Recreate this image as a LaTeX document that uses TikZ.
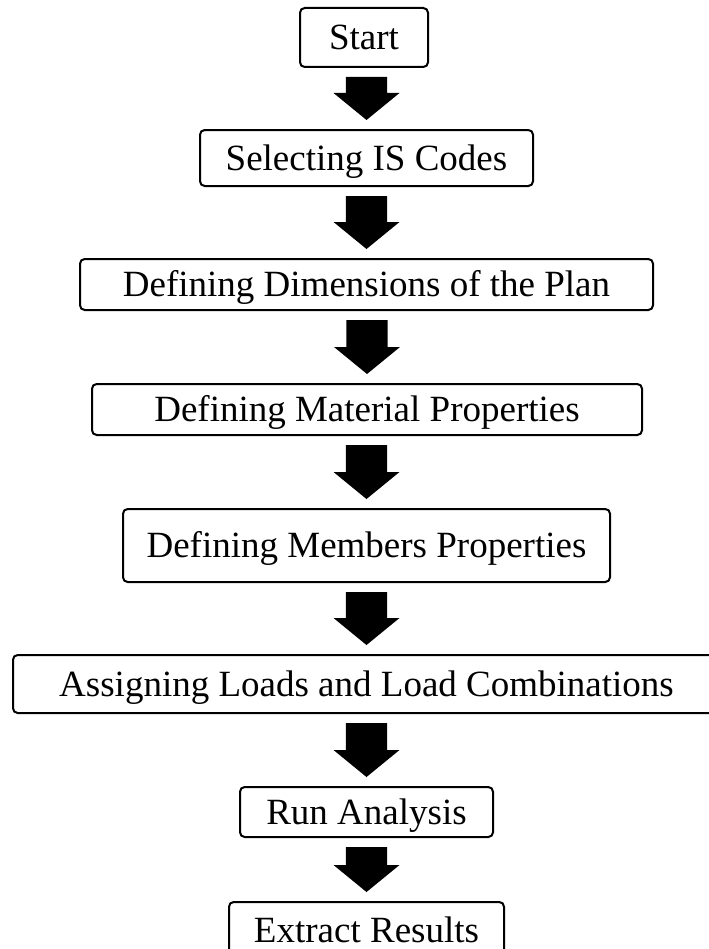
\documentclass[tikz,border=0pt]{standalone}
\usepackage{fontspec}
\setmainfont{Liberation Serif}
\usetikzlibrary{calc}

% thick block arrow from the bottom of one step to the top of the next
\newcommand\blockarrow[2]{%
  \fill[black] let \p1=(#1.south), \p2=(#2.north) in
    (\x2-15.4pt,\y1-6.75pt) -- (\x2+15.4pt,\y1-6.75pt) --
    (\x2+15.4pt,\y2+27pt) -- (\x2+24.75pt,\y2+27pt) --
    (\x2,\y2+6.75pt) --
    (\x2-24.75pt,\y2+27pt) -- (\x2-15.4pt,\y2+27pt) -- cycle;}

\begin{document}
\begin{tikzpicture}[x=0.75pt,y=0.75pt,
  stepbox/.style={draw=black, line width=1.5pt, rounded corners=3.5pt,
    inner sep=0pt, text height=18.6pt, text depth=0pt,
    font=\fontsize{27.75}{33}\selectfont},
  sz/.style 2 args={minimum width=#1*0.75pt, minimum height=#2*0.75pt}]
\useasboundingbox (0,0) rectangle (708,-949);

\node[stepbox, sz={128}{59}] (start)    at (364,-37.5)   {Start};
\node[stepbox, sz={333}{56}] (codes)    at (366.5,-158)  {Selecting IS Codes};
\node[stepbox, sz={573}{51}] (dims)     at (366.5,-284.5){Defining Dimensions of the Plan};
\node[stepbox, sz={550}{51}] (material) at (367,-409.5)  {Defining Material Properties};
\node[stepbox, sz={487}{73}] (members)  at (366.5,-545.5){Defining Members Properties};
\node[stepbox, sz={707}{58}] (loads)    at (366.5,-684)  {Assigning Loads and Load Combinations};
\node[stepbox, sz={253}{50}] (run)      at (366.5,-812)  {Run Analysis};
\node[stepbox, sz={275}{56}] (extract)  at (366.5,-930)  {Extract Results};

\blockarrow{start}{codes}
\blockarrow{codes}{dims}
\blockarrow{dims}{material}
\blockarrow{material}{members}
\blockarrow{members}{loads}
\blockarrow{loads}{run}
\blockarrow{run}{extract}
\end{tikzpicture}
\end{document}
